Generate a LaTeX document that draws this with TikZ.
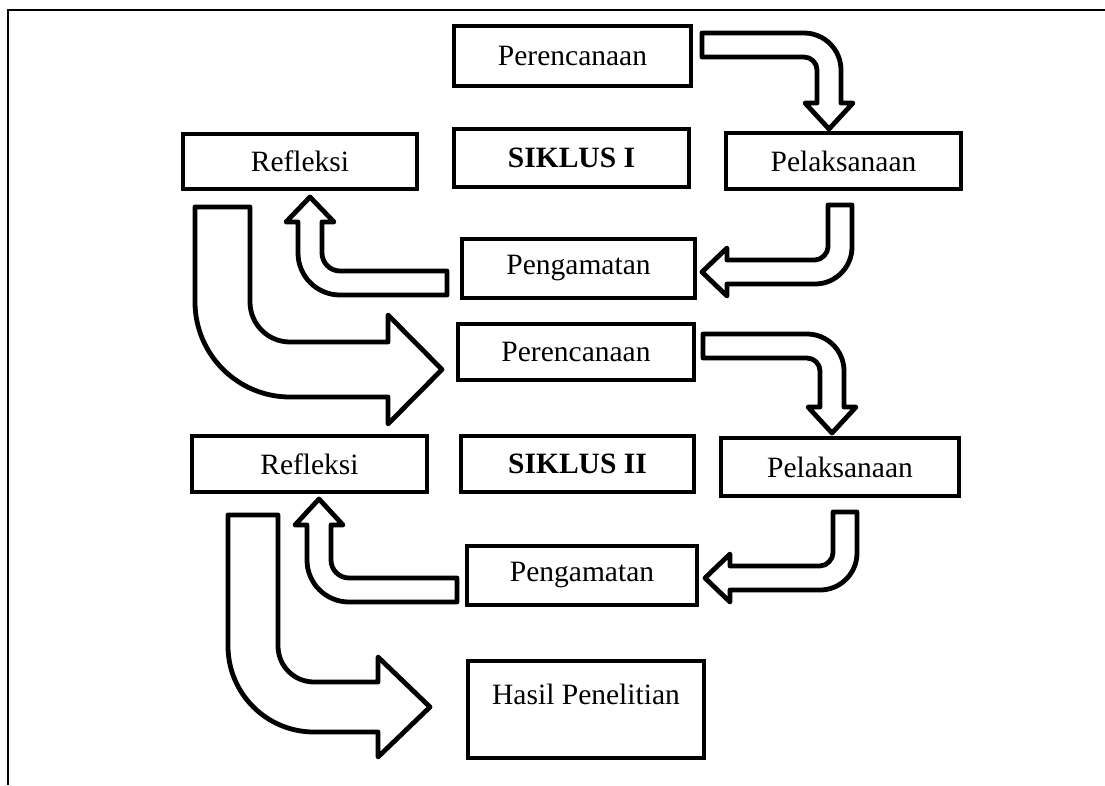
\documentclass[tikz,border=0pt]{standalone}
\usepackage{fontspec}
\setmainfont{Liberation Serif}
\begin{document}
\begin{tikzpicture}[x=1pt,y=-1pt,
  box/.style={draw, line width=4.2pt, inner sep=0pt, font=\fontsize{29.5}{35}\selectfont},
  lbl/.style={inner sep=0pt, font=\fontsize{29.5}{35}\selectfont},
  barrow/.style={draw, line width=4.8pt, line join=round, fill=white}]
\useasboundingbox (0,0) rectangle (1105,785);
\draw[line width=2pt] (8,785) -- (8,10) -- (1105,10);

% boxes
\node[box, minimum width=237pt, minimum height=60pt] (p1) at (572.5,56) {Perencanaan};
\node[box, minimum width=235pt, minimum height=58pt] (s1) at (571.5,158) {\textbf{SIKLUS I}};
\node[box, minimum width=234pt, minimum height=55pt] (r1) at (300,161.5) {Refleksi};
\node[box, minimum width=235pt, minimum height=56pt] (l1) at (843.5,161) {Pelaksanaan};
\node[box, minimum width=233pt, minimum height=59pt] (g1) at (578.5,268.5) {Pengamatan};
\node[box, minimum width=236pt, minimum height=56pt] (p2) at (576,352) {Perencanaan};
\node[box, minimum width=235pt, minimum height=56pt] (r2) at (309.5,464) {Refleksi};
\node[box, minimum width=233pt, minimum height=56pt] (s2) at (577.5,464) {\textbf{SIKLUS II}};
\node[box, minimum width=238pt, minimum height=58pt] (l2) at (840,467) {Pelaksanaan};
\node[box, minimum width=230pt, minimum height=59pt] (g2) at (582,575.5) {Pengamatan};
\node[box, minimum width=236pt, minimum height=97pt] (h) at (586,709.5) {};
\node[lbl] (ht) at (586,694) {Hasil Penelitian};

% A: p1 -> l1
\draw[barrow] (702,33) -- (804,33) .. controls (824.4,33) and (841,49.6) .. (841,70)
  -- (841,103) -- (853,103) -- (829,129) -- (805,103) -- (817,103) -- (817,70)
  .. controls (817,62.8) and (811.2,57) .. (804,57) -- (702,57) -- cycle;
% B: l1 -> g1
\draw[barrow] (828,205) -- (852,205) -- (852,247) .. controls (852,267.4) and (835.4,284) .. (815,284)
  -- (727,284) -- (727,296) -- (702,272) -- (727,248) -- (727,260) -- (815,260)
  .. controls (822.2,260) and (828,252.8) .. (828,247) -- cycle;
% C: g1 -> r1
\draw[barrow] (447,271) -- (340,271) .. controls (330.1,271) and (322,262.9) .. (322,253)
  -- (322,222) -- (334,222) -- (310,197) -- (286,222) -- (298,222) -- (298,253)
  .. controls (298,276.2) and (316.8,295) .. (340,295) -- (447,295) -- cycle;
% D: r1 -> p2
\draw[barrow] (195,207) -- (250,207) -- (250,302) .. controls (250,324.1) and (267.9,342) .. (290,342)
  -- (388,342) -- (388,315) -- (442,369.5) -- (388,424) -- (388,397) -- (290,397)
  .. controls (237.6,397) and (195,354.4) .. (195,302) -- cycle;
% E: p2 -> l2
\draw[barrow] (703,334) -- (807,334) .. controls (827.4,334) and (844,350.6) .. (844,371)
  -- (844,407) -- (856,407) -- (832,433) -- (808,407) -- (820,407) -- (820,371)
  .. controls (820,363.8) and (814.2,358) .. (807,358) -- (703,358) -- cycle;
% F: l2 -> g2
\draw[barrow] (833,512) -- (857,512) -- (857,553) .. controls (857,573.4) and (840.4,590) .. (820,590)
  -- (730,590) -- (730,602) -- (705,578) -- (730,554) -- (730,566) -- (820,566)
  .. controls (827.2,566) and (833,558.8) .. (833,553) -- cycle;
% G: g2 -> r2
\draw[barrow] (457,578) -- (349,578) .. controls (339.1,578) and (331,569.9) .. (331,560)
  -- (331,525) -- (343,525) -- (319,499) -- (295,525) -- (307,525) -- (307,560)
  .. controls (307,583.2) and (325.8,602) .. (349,602) -- (457,602) -- cycle;
% H: r2 -> h
\draw[barrow] (228,515) -- (278,515) -- (278,646) .. controls (278,665.9) and (294.1,682) .. (314,682)
  -- (378,682) -- (378,657) -- (430,707) -- (378,757) -- (378,732) -- (314,732)
  .. controls (266.5,732) and (228,693.5) .. (228,646) -- cycle;
\end{tikzpicture}
\end{document}
